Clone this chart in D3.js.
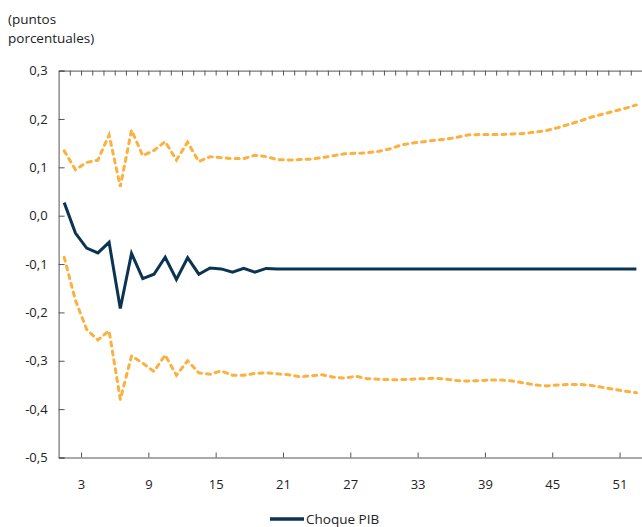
<!DOCTYPE html>
<html>
<head>
<meta charset="utf-8">
<script src="https://cdn.jsdelivr.net/npm/d3@7"></script>
<style>
  body { margin: 0; background: #fff; }
  svg { display: block; font-family: "Open Sans", sans-serif; }
</style>
</head>
<body>
<div id="chart"></div>
<script>
// periods (quarters after the shock)
var periods = d3.range(1, 53);

// response to the GDP shock
var choquePIB = [0.027, -0.036, -0.067, -0.077, -0.055, -0.192, -0.078, -0.130, -0.121, -0.086,
  -0.132, -0.087, -0.121, -0.108, -0.110, -0.117, -0.109, -0.117, -0.109, -0.110,
  -0.110, -0.110, -0.110, -0.110, -0.110, -0.110, -0.110, -0.110, -0.110, -0.110,
  -0.110, -0.110, -0.110, -0.110, -0.110, -0.110, -0.110, -0.110, -0.110, -0.110,
  -0.110, -0.110, -0.110, -0.110, -0.110, -0.110, -0.110, -0.110, -0.110, -0.110,
  -0.110, -0.110];

// confidence bands
var bandaSup = [0.134, 0.095, 0.110, 0.115, 0.167, 0.060, 0.177, 0.124, 0.135, 0.153,
  0.115, 0.152, 0.112, 0.122, 0.120, 0.118, 0.118, 0.125, 0.122, 0.116,
  0.115, 0.116, 0.117, 0.120, 0.124, 0.128, 0.129, 0.130, 0.133, 0.138,
  0.146, 0.150, 0.153, 0.156, 0.158, 0.162, 0.167, 0.168, 0.168, 0.168,
  0.169, 0.170, 0.173, 0.176, 0.182, 0.189, 0.196, 0.204, 0.210, 0.216,
  0.222, 0.229];

var bandaInf = [-0.086, -0.175, -0.235, -0.257, -0.238, -0.380, -0.290, -0.305, -0.322, -0.288,
  -0.330, -0.300, -0.325, -0.328, -0.321, -0.330, -0.330, -0.326, -0.325, -0.327,
  -0.329, -0.333, -0.331, -0.329, -0.334, -0.336, -0.332, -0.337, -0.338, -0.339,
  -0.339, -0.338, -0.337, -0.336, -0.338, -0.341, -0.342, -0.341, -0.340, -0.340,
  -0.342, -0.346, -0.350, -0.352, -0.350, -0.349, -0.349, -0.351, -0.355, -0.359,
  -0.363, -0.366];

var xTicks = [3, 9, 15, 21, 27, 33, 39, 45, 51];
var yTicks = [-0.5, -0.4, -0.3, -0.2, -0.1, 0.0, 0.1, 0.2, 0.3];

var width = 642, height = 527;
var margin = {top: 70.6, right: 0, bottom: 69.5, left: 58.6};

var svg = d3.select("#chart").append("svg")
  .attr("width", width).attr("height", height);

var x = d3.scaleLinear().domain([1, 53]).range([margin.left, width - margin.right]);
var y = d3.scaleLinear().domain([-0.5, 0.3]).range([height - margin.bottom, margin.top]);
var fmt = function(d) { return d3.format(".1f")(d).replace(".", ",").replace("\u2212", "-"); };

// title
var title = svg.append("text").attr("x", 8).attr("font-size", 13.5).attr("fill", "#222");
title.append("tspan").attr("x", 8).attr("y", 24).text("(puntos");
title.append("tspan").attr("x", 8).attr("y", 43).text("porcentuales)");

// left axis
var yAxis = d3.axisLeft(y).tickValues(yTicks).tickSize(-6).tickPadding(11).tickFormat(fmt);
var gy = svg.append("g").attr("transform", "translate(" + margin.left + ",0)").call(yAxis);
gy.select(".domain").attr("stroke", "#555");
gy.selectAll(".tick line").attr("stroke", "#555");
gy.selectAll("text").attr("font-size", 13).attr("fill", "#222").attr("font-family", "Open Sans");

// bottom axis, ticks inside
var xAxis = d3.axisBottom(x).tickValues(xTicks).tickSize(-5).tickPadding(22).tickSizeOuter(0);
var gx = svg.append("g").attr("transform", "translate(0," + y(-0.5) + ")").call(xAxis);
gx.select(".domain").attr("stroke", "#555");
gx.selectAll(".tick line").attr("stroke", "#555");
gx.selectAll("text").attr("font-size", 13).attr("fill", "#222").attr("font-family", "Open Sans");

// top line with a tick for every period
var topAxis = d3.axisTop(x).tickValues(d3.range(2, 54)).tickSize(-5).tickFormat("").tickSizeOuter(0);
var gt = svg.append("g").attr("transform", "translate(0," + y(0.3) + ")").call(topAxis);
gt.select(".domain").attr("stroke", "#555");
gt.selectAll(".tick line").attr("stroke", "#555");

// points sit in the middle of each period
var line = function(vals) {
  return d3.line()
    .x(function(d, i) { return x(periods[i] + 0.5); })
    .y(function(d) { return y(d); })(vals);
};

svg.append("path").attr("d", line(bandaSup))
  .attr("fill", "none").attr("stroke", "#fbb040").attr("stroke-width", 3)
  .attr("stroke-linecap", "round").attr("stroke-dasharray", "4,5");
svg.append("path").attr("d", line(bandaInf))
  .attr("fill", "none").attr("stroke", "#fbb040").attr("stroke-width", 3)
  .attr("stroke-linecap", "round").attr("stroke-dasharray", "4,5");
svg.append("path").attr("d", line(choquePIB))
  .attr("fill", "none").attr("stroke", "#0b3352").attr("stroke-width", 3)
  .attr("stroke-linejoin", "miter");

// legend
var lg = svg.append("g").attr("transform", "translate(270,519)");
lg.append("line").attr("x1", 0).attr("x2", 34).attr("y1", 0).attr("y2", 0)
  .attr("stroke", "#0b3352").attr("stroke-width", 3.5);
lg.append("text").attr("x", 36).attr("y", 5).attr("font-size", 13.5).attr("fill", "#222")
  .text("Choque PIB");
</script>
</body>
</html>
